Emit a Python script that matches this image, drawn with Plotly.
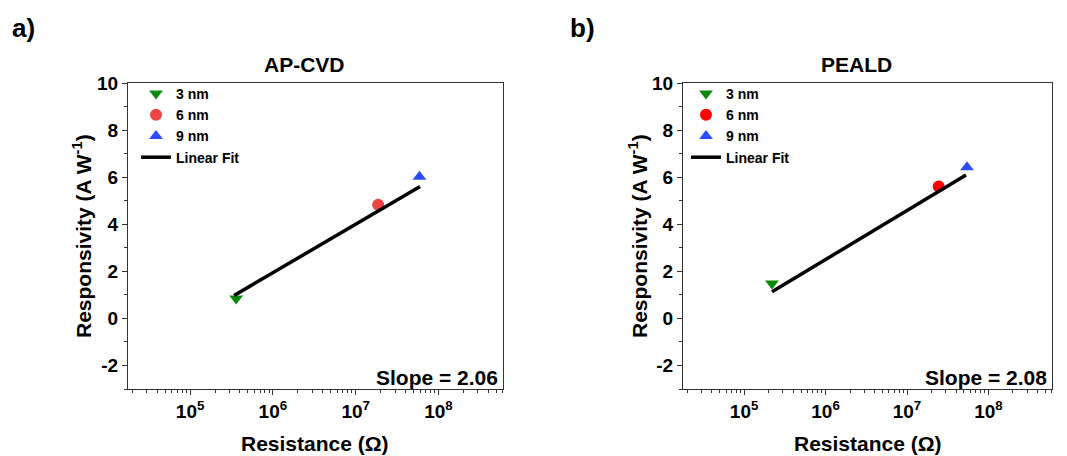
import numpy as np
import plotly.graph_objects as go

# ---------------- data ----------------
series_names = ["3 nm", "6 nm", "9 nm"]

apcvd_resistance = [3.6e5, 1.87e7, 5.9e7]
apcvd_responsivity = [0.85, 4.83, 6.02]
apcvd_fit_slope = 2.06
apcvd_fit_intercept = -10.42
apcvd_fit_range = [3.4e5, 6.0e7]

peald_resistance = [2.2e5, 2.45e7, 5.45e7]
peald_responsivity = [1.48, 5.6, 6.42]
peald_fit_slope = 2.08
peald_fit_intercept = -9.98
peald_fit_range = [2.2e5, 5.3e7]

panel_titles = ["AP-CVD", "PEALD"]
panel_letters = ["a)", "b)"]
slope_labels = ["Slope = 2.06", "Slope = 2.08"]

x_tickvals = [1e5, 1e6, 1e7, 1e8]
x_ticktext = ["10<sup>5</sup>", "10<sup>6</sup>", "10<sup>7</sup>", "10<sup>8</sup>"]
x_minor_vals = [m * 10.0 ** e for e in range(4, 9) for m in range(2, 10)]
y_tickvals = [-2, 0, 2, 4, 6, 8, 10]
y_ticktext = ["-2", "0", "2", "4", "6", "8", "10"]

# ---------------- styles ----------------
FONT = "Liberation Sans, Arial, sans-serif"
marker_styles = [
    dict(symbol="triangle-down", color="#0a8a0a"),
    dict(symbol="circle", color="#ee4444"),
    dict(symbol="triangle-up", color="#2b4cff"),
]
marker_styles_b = [
    dict(symbol="triangle-down", color="#0a8a0a"),
    dict(symbol="circle", color="#ff0000"),
    dict(symbol="triangle-up", color="#2b4cff"),
]

# page has an 8px body margin: build the figure 8px smaller and shift coordinates
OFF = 8
W, H = 1067 - OFF, 456 - OFF


def px(xp):
    return (xp - OFF) / W


def py(yp):
    return 1 - (yp - OFF) / H


dom_a = [px(128), px(503)]
dom_b = [px(683), px(1052)]
dom_y = [py(389), py(83)]

fig = go.Figure()

panels = [
    dict(res=apcvd_resistance, resp=apcvd_responsivity, slope=apcvd_fit_slope,
         icpt=apcvd_fit_intercept, frange=apcvd_fit_range, styles=marker_styles,
         xa="x", ya="y", legend="legend"),
    dict(res=peald_resistance, resp=peald_responsivity, slope=peald_fit_slope,
         icpt=peald_fit_intercept, frange=peald_fit_range, styles=marker_styles_b,
         xa="x2", ya="y2", legend="legend2"),
]

for p in panels:
    for i, name in enumerate(series_names):
        fig.add_trace(go.Scatter(
            x=[p["res"][i]], y=[p["resp"][i]], mode="markers", name=name,
            marker=dict(size=12, symbol=p["styles"][i]["symbol"],
                        color=p["styles"][i]["color"], line=dict(width=0)),
            xaxis=p["xa"], yaxis=p["ya"], legend=p["legend"],
        ))
    fx = np.array(p["frange"])
    fy = p["icpt"] + p["slope"] * np.log10(fx)
    fig.add_trace(go.Scatter(
        x=fx, y=fy, mode="lines", name="Linear Fit",
        line=dict(color="black", width=3.5),
        xaxis=p["xa"], yaxis=p["ya"], legend=p["legend"],
    ))

axis_common = dict(
    showline=True, linecolor="#333333", linewidth=1.3, mirror=True,
    ticks="outside", ticklen=5, tickwidth=1.2, tickcolor="#333333",
    showgrid=False, zeroline=False, automargin=False,
    tickfont=dict(family=FONT, size=19, color="black", weight="bold"),
)

xaxis_cfg = dict(
    type="log", range=[4.25, 8.78], tickmode="array",
    tickvals=x_tickvals, ticktext=x_ticktext,
    minor=dict(ticks="outside", ticklen=3, tickwidth=1, tickcolor="#333333",
               tickmode="array", tickvals=x_minor_vals, showgrid=False),
    **axis_common,
)
yaxis_cfg = dict(
    range=[-3, 10], tickmode="array", tickvals=y_tickvals, ticktext=y_ticktext,
    minor=dict(ticks="outside", ticklen=3, tickwidth=1, tickcolor="#333333",
               dtick=1, tick0=0, showgrid=False),
    **axis_common,
)

legend_common = dict(
    bgcolor="rgba(0,0,0,0)", borderwidth=0,
    font=dict(family=FONT, size=14, color="black", weight="bold"),
    xanchor="left", yanchor="top", tracegroupgap=0, itemwidth=30,
)

fig.update_layout(
    width=W, height=H,
    margin=dict(l=0, r=0, t=0, b=0, autoexpand=False),
    paper_bgcolor="white", plot_bgcolor="white",
    xaxis=dict(domain=dom_a, anchor="y", **xaxis_cfg),
    yaxis=dict(domain=dom_y, anchor="x", **yaxis_cfg),
    xaxis2=dict(domain=dom_b, anchor="y2", **xaxis_cfg),
    yaxis2=dict(domain=dom_y, anchor="x2", **yaxis_cfg),
    legend=dict(x=px(136), y=py(78), **legend_common),
    legend2=dict(x=px(686), y=py(78), **legend_common),
    showlegend=True,
)

big_font = dict(family=FONT, size=21, color="black", weight="bold")
annotations = []
for dom, ttl, letter, slope_txt, letter_x, ytitle_x in [
        (dom_a, panel_titles[0], panel_letters[0], slope_labels[0], 10, 82),
        (dom_b, panel_titles[1], panel_letters[1], slope_labels[1], 568, 638)]:
    cx = (dom[0] + dom[1]) / 2
    annotations.append(dict(text=ttl, x=cx - 11 / W, y=py(65), xref="paper", yref="paper",
                            showarrow=False, font=big_font, xanchor="center", yanchor="middle"))
    annotations.append(dict(text=letter, x=px(letter_x), y=py(28), xref="paper", yref="paper",
                            showarrow=False, font=dict(family=FONT, size=26, color="black", weight="bold"),
                            xanchor="left", yanchor="middle"))
    annotations.append(dict(text=slope_txt, x=dom[1] - 3 / W, y=py(377), xref="paper", yref="paper",
                            showarrow=False, font=big_font, xanchor="right", yanchor="middle"))
    annotations.append(dict(text="Resistance (Ω)", x=cx, y=py(443), xref="paper", yref="paper",
                            showarrow=False, font=big_font, xanchor="center", yanchor="middle"))
    annotations.append(dict(text="Responsivity (A W<sup>-1</sup>)", x=px(ytitle_x),
                            y=(dom_y[0] + dom_y[1]) / 2, xref="paper", yref="paper",
                            showarrow=False, font=big_font, textangle=-90,
                            xanchor="center", yanchor="middle"))
fig.update_layout(annotations=annotations)

fig.write_html("out.html")
